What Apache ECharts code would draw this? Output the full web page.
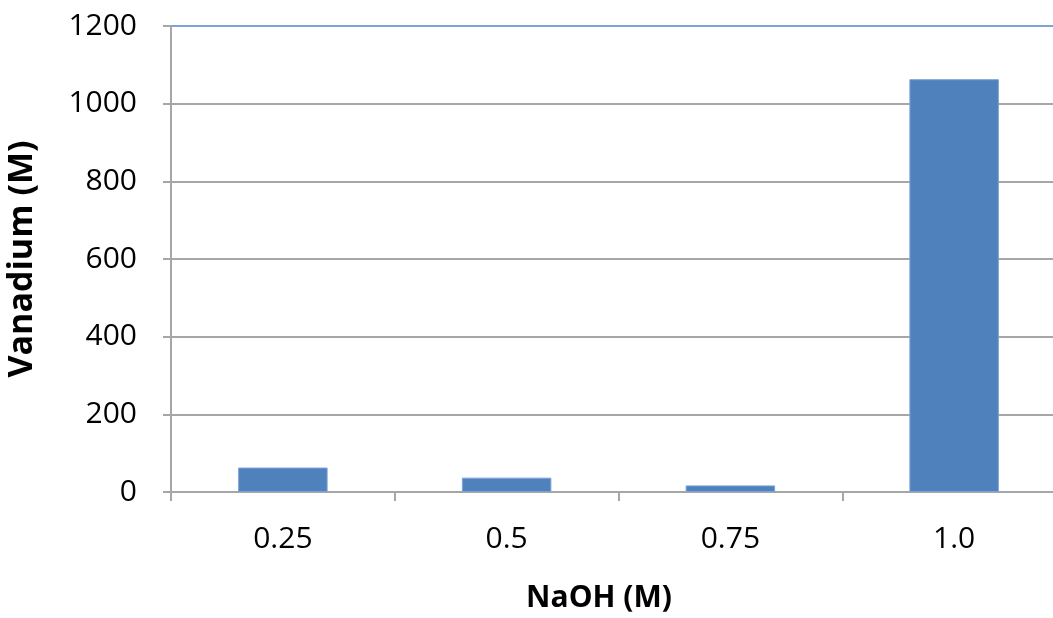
<!DOCTYPE html>
<html>
<head>
<meta charset="utf-8">
<script src="https://cdn.jsdelivr.net/npm/echarts@6/dist/echarts.min.js"></script>
<style>
  html, body { margin: 0; padding: 0; background: #ffffff; }
  #chart { width: 1053px; height: 618px; }
</style>
</head>
<body>
<div id="chart"></div>
<script>
// NaOH concentration (M) on the category axis
const categories = ['0.25', '0.5', '0.75', '1.0'];
// Vanadium (M) measured at each concentration
const vanadium = [63, 37, 17, 1063];
// Value-axis range
const yMin = 0;
const yMax = 1200;
const yStep = 200;

const gridColor = '#a6a6a6';
const font = 'Open Sans';

const chart = echarts.init(document.getElementById('chart'), null, { renderer: 'canvas' });
chart.setOption({
  animation: false,
  backgroundColor: '#ffffff',
  grid: {
    left: 171, top: 26, right: -13, bottom: 126,
    containLabel: false,
    outerBoundsMode: 'none'
  },
  xAxis: {
    type: 'category',
    data: categories,
    name: 'NaOH (M)',
    nameLocation: 'middle',
    nameGap: 91,
    nameMoveOverlap: false,
    nameTextStyle: {
      fontFamily: font, fontWeight: 'bold', fontSize: 30, color: '#000000',
      padding: [0, 39, 0, 0]
    },
    axisLine: { show: true, lineStyle: { color: gridColor, width: 2 } },
    axisTick: { show: true, length: 9, lineStyle: { color: gridColor, width: 2 } },
    axisLabel: { fontFamily: font, fontSize: 30, color: '#000000', margin: 32 },
    splitLine: { show: false }
  },
  yAxis: {
    type: 'value',
    min: yMin,
    max: yMax,
    interval: yStep,
    name: 'Vanadium (M)',
    nameLocation: 'middle',
    nameGap: 132,
    nameMoveOverlap: false,
    nameRotate: 90,
    nameTextStyle: { fontFamily: font, fontWeight: 'bold', fontSize: 34, color: '#000000' },
    axisLine: { show: true, lineStyle: { color: gridColor, width: 2 } },
    axisTick: { show: true, length: 8, lineStyle: { color: gridColor, width: 2 } },
    axisLabel: {
      fontFamily: font, fontSize: 30, color: '#000000', margin: 34,
      formatter: function (v) { return String(v); }
    },
    splitLine: {
      show: true,
      lineStyle: {
        color: [gridColor, gridColor, gridColor, gridColor, gridColor, gridColor, '#7ea3d6'],
        width: 2
      }
    }
  },
  series: [{
    type: 'bar',
    data: vanadium,
    barCategoryGap: '60%',
    itemStyle: { color: '#4f81bd', borderColor: '#7ea3d6', borderWidth: 1 }
  }]
});
</script>
</body>
</html>
